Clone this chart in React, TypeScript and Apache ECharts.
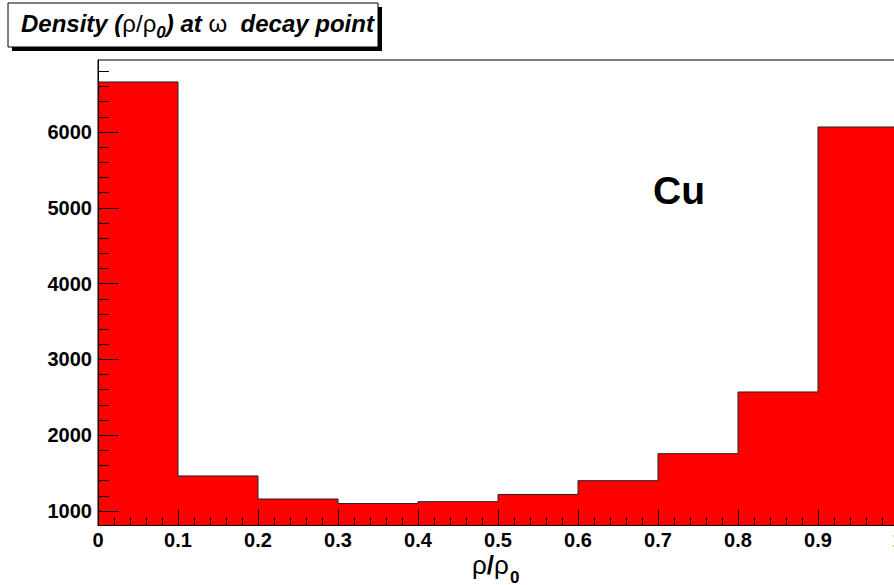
import React, { useEffect, useRef } from "react";
import * as echarts from "echarts";

// Histogram data: density rho/rho0 at omega decay point (Cu)
const binLow = [0, 0.1, 0.2, 0.3, 0.4, 0.5, 0.6, 0.7, 0.8, 0.9];
const binWidth = 0.1;
const counts = [6660, 1462, 1158, 1098, 1123, 1218, 1400, 1756, 2570, 6066];
const xTicks = [0, 0.1, 0.2, 0.3, 0.4, 0.5, 0.6, 0.7, 0.8, 0.9, 1];
const yMajor = [1000, 2000, 3000, 4000, 5000, 6000];
const yMinor = [1200, 1400, 1600, 1800, 2200, 2400, 2600, 2800, 3200, 3400, 3600, 3800, 4200, 4400, 4600, 4800, 5200, 5400, 5600, 5800, 6200, 6400, 6600, 6800];
const Y_MIN = 815;
const Y_MAX = 6950;

const FONT = "'Liberation Sans', Arial, Helvetica, sans-serif";

export default function App() {
  const ref = useRef<HTMLDivElement>(null);
  useEffect(() => {
    if (!ref.current) return;
    const chart = echarts.init(ref.current, null, { renderer: "svg" });
    const data = binLow.map((lo, i) => [lo, lo + binWidth, counts[i], i === 0 ? Y_MIN : counts[i - 1]]);
    const option: any = {
      animation: false,
      backgroundColor: "#ffffff",
      grid: {
        left: 98,
        top: 60,
        width: 800,
        height: 465,
        show: true,
        borderColor: "#000",
        borderWidth: 1,
        backgroundColor: "transparent",
        containLabel: false,
        outerBoundsMode: "none",
      },
      xAxis: {
        type: "value",
        min: 0,
        max: 1,
        interval: 0.1,
        z: 10,
        axisLine: { show: true, lineStyle: { color: "#000", width: 1 } },
        axisTick: { show: true, inside: true, length: 16, lineStyle: { color: "#000", width: 1 } },
        minorTick: { show: true, splitNumber: 5, length: 8, lineStyle: { color: "#000", width: 1 } },
        splitLine: { show: false },
        minorSplitLine: { show: false },
        axisLabel: {
          show: true,
          showMinLabel: true,
          showMaxLabel: true,
          hideOverlap: false,
          margin: 5,
          color: "#000",
          fontFamily: FONT,
          fontWeight: "bold",
          fontSize: 20,
          formatter: (v: number) => {
            const t = xTicks.find((x) => Math.abs(x - v) < 1e-6);
            if (t === undefined) return "";
            return t === 0 ? "0" : t === 1 ? "1" : t.toFixed(1);
          },
        },
      },
      yAxis: [
        {
          type: "value",
          min: Y_MIN,
          max: Y_MAX,
          position: "left",
          z: 10,
          axisLine: { show: true, lineStyle: { color: "#000", width: 1 } },
          axisTick: { show: true, inside: true, length: 21, customValues: yMajor, lineStyle: { color: "#000", width: 1 } },
          splitLine: { show: false },
          axisLabel: {
            show: true,
            customValues: yMajor,
            margin: 6,
            color: "#000",
            fontFamily: FONT,
            fontWeight: "bold",
            fontSize: 20,
            formatter: (v: number) => String(Math.round(v)),
          },
        },
        {
          type: "value",
          min: Y_MIN,
          max: Y_MAX,
          position: "left",
          offset: 0,
          z: 10,
          axisLine: { show: false },
          axisTick: { show: true, inside: true, length: 11, customValues: yMinor, lineStyle: { color: "#000", width: 1 } },
          splitLine: { show: false },
          axisLabel: { show: false },
        },
      ],
      series: [
        {
          type: "custom",
          xAxisIndex: 0,
          yAxisIndex: 0,
          clip: true,
          data,
          renderItem: (params: any, api: any) => {
            const lo = api.value(0);
            const hi = api.value(1);
            const v = api.value(2);
            const prev = api.value(3);
            const pBase = api.coord([lo, Y_MIN]);
            const pTop = api.coord([hi, v]);
            const pPrev = api.coord([lo, prev]);
            const pLoTop = api.coord([lo, v]);
            return {
              type: "group",
              children: [
                {
                  type: "rect",
                  shape: { x: pBase[0], y: pTop[1], width: pTop[0] - pBase[0], height: pBase[1] - pTop[1] },
                  style: { fill: "#ff0000", stroke: "none" },
                },
                {
                  type: "polyline",
                  shape: { points: [pPrev, pLoTop, pTop] },
                  style: { fill: "none", stroke: "#222", lineWidth: 1 },
                },
              ],
            };
          },
        },
      ],
      graphic: [
        { type: "rect", shape: { x: 12, y: 7, width: 370, height: 44 }, style: { fill: "#000" }, z: 100 },
        { type: "rect", shape: { x: 8, y: 3, width: 370, height: 44 }, style: { fill: "#fff", stroke: "#000", lineWidth: 1 }, z: 101 },
        {
          type: "text",
          x: 21,
          y: 23,
          z: 102,
          style: {
            text: "{b|Density (}{g|ρ/ρ}{s|0}{b|) at }{g|ω}{b|  decay point}",
            verticalAlign: "middle",
            fill: "#000",
            rich: {
              b: { fontFamily: FONT, fontWeight: "bold", fontStyle: "italic", fontSize: 24, fill: "#000" },
              g: { fontFamily: FONT, fontWeight: "normal", fontSize: 24, fill: "#000" },
              s: { fontFamily: FONT, fontWeight: "bold", fontStyle: "italic", fontSize: 17, fill: "#000", padding: [18, 0, 0, 0] },
            },
          },
        },
        {
          type: "text",
          x: 653,
          y: 190,
          z: 50,
          style: { text: "Cu", fontFamily: FONT, fontWeight: "bold", fontSize: 39, fill: "#000", verticalAlign: "middle" },
        },
        {
          type: "text",
          x: 472,
          y: 565,
          z: 50,
          style: {
            text: "{g|ρ}{b|/}{g|ρ}",
            verticalAlign: "middle",
            rich: {
              g: { fontFamily: FONT, fontSize: 26, fill: "#000" },
              b: { fontFamily: FONT, fontWeight: "bold", fontSize: 26, fill: "#000" },
            },
          },
        },
        {
          type: "text",
          x: 510,
          y: 577,
          z: 50,
          style: { text: "0", fontFamily: FONT, fontWeight: "bold", fontSize: 17, fill: "#000", verticalAlign: "middle" },
        },
      ],
    };
    chart.setOption(option);
    return () => chart.dispose();
  }, []);
  return <div ref={ref} style={{ position: "fixed", left: 0, top: 0, width: 894, height: 585 }} />;
}
